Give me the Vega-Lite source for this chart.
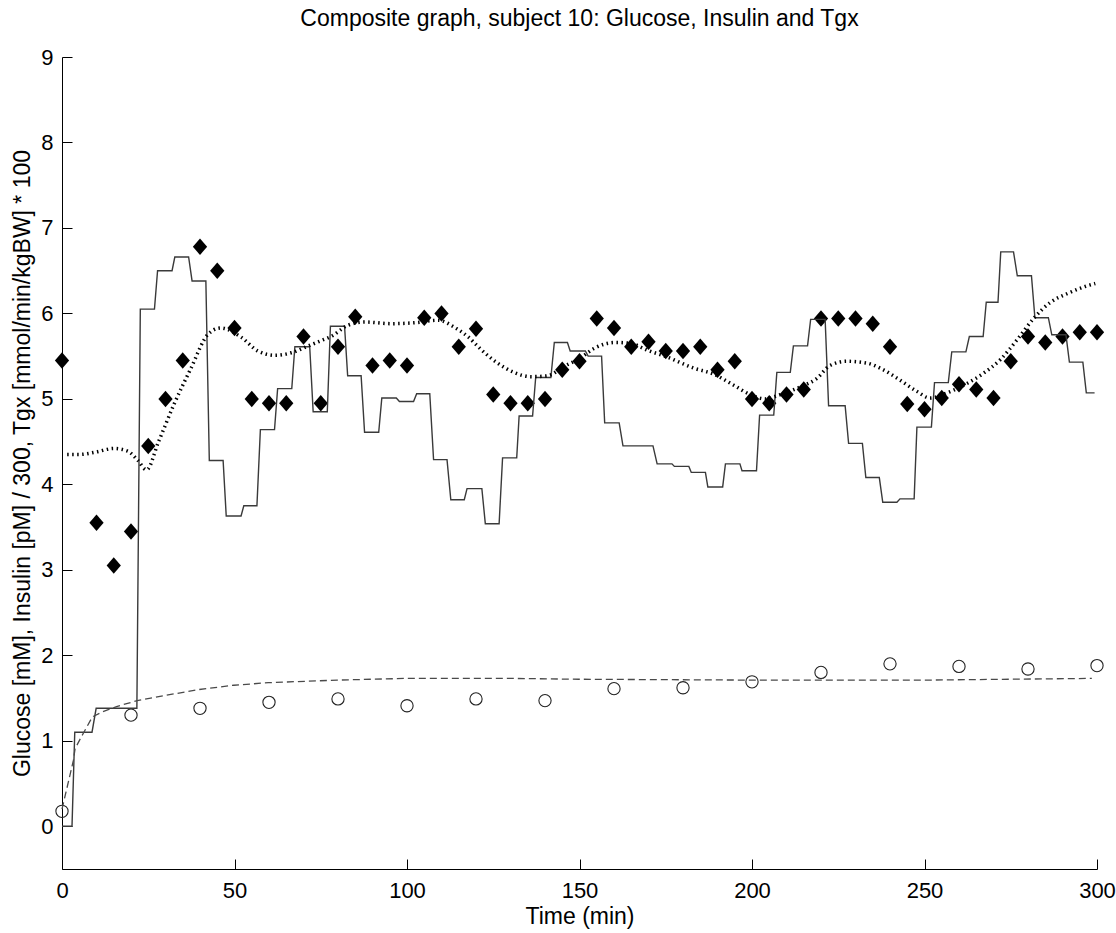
{
  "$schema": "https://vega.github.io/schema/vega-lite/v6.json",
  "width": 1035,
  "height": 812,
  "autosize": {"type": "none"},
  "padding": {"left": 62, "top": 57, "right": 19, "bottom": 64},
  "background": "white",
  "config": {
    "view": {"stroke": null},
    "axis": {
      "grid": false,
      "domainColor": "black",
      "domainWidth": 1,
      "tickColor": "black",
      "tickWidth": 1,
      "tickSize": -10,
      "labelColor": "black",
      "labelFont": "Liberation Sans",
      "labelFontSize": 22,
      "titleFont": "Liberation Sans",
      "titleFontSize": 23,
      "titleFontWeight": "normal",
      "titleColor": "black"
    }
  },
  "title": {
    "text": "Composite graph, subject 10: Glucose, Insulin and Tgx",
    "font": "Liberation Sans",
    "fontSize": 23,
    "fontWeight": "normal",
    "color": "black",
    "anchor": "middle",
    "offset": 15
  },
  "datasets": {
    "tgx": [
      {"t": 0, "v": 0}, {"t": 2.9, "v": 0}, {"t": 3.7, "v": 1.10}, {"t": 8.7, "v": 1.10},
      {"t": 9.9, "v": 1.38}, {"t": 21.7, "v": 1.38}, {"t": 22.7, "v": 6.05}, {"t": 26.8, "v": 6.05},
      {"t": 27.7, "v": 6.50}, {"t": 31.9, "v": 6.50}, {"t": 32.7, "v": 6.66}, {"t": 36.7, "v": 6.66},
      {"t": 37.7, "v": 6.38}, {"t": 41.7, "v": 6.38}, {"t": 42.7, "v": 4.28}, {"t": 46.7, "v": 4.28},
      {"t": 47.6, "v": 3.63}, {"t": 51.9, "v": 3.63}, {"t": 52.7, "v": 3.75}, {"t": 56.5, "v": 3.75},
      {"t": 57.5, "v": 4.64}, {"t": 61.6, "v": 4.64}, {"t": 62.5, "v": 5.12}, {"t": 66.6, "v": 5.12},
      {"t": 67.5, "v": 5.61}, {"t": 71.8, "v": 5.61}, {"t": 72.8, "v": 4.85}, {"t": 76.9, "v": 4.85},
      {"t": 77.8, "v": 5.85}, {"t": 81.9, "v": 5.85}, {"t": 82.8, "v": 5.27}, {"t": 86.7, "v": 5.27},
      {"t": 87.7, "v": 4.61}, {"t": 91.8, "v": 4.61}, {"t": 92.7, "v": 5.01}, {"t": 96.9, "v": 5.01},
      {"t": 97.8, "v": 4.97}, {"t": 101.9, "v": 4.97}, {"t": 102.8, "v": 5.06}, {"t": 106.6, "v": 5.06},
      {"t": 107.7, "v": 4.29}, {"t": 111.6, "v": 4.29}, {"t": 112.7, "v": 3.82}, {"t": 116.6, "v": 3.82},
      {"t": 117.4, "v": 3.95}, {"t": 121.7, "v": 3.95}, {"t": 122.7, "v": 3.54}, {"t": 126.7, "v": 3.54},
      {"t": 127.7, "v": 4.31}, {"t": 131.8, "v": 4.31}, {"t": 132.5, "v": 4.80}, {"t": 136.4, "v": 4.80},
      {"t": 137.3, "v": 5.25}, {"t": 141.7, "v": 5.25}, {"t": 142.7, "v": 5.66}, {"t": 146.5, "v": 5.66},
      {"t": 147.3, "v": 5.56}, {"t": 151.7, "v": 5.56}, {"t": 152.5, "v": 5.50}, {"t": 156.4, "v": 5.50},
      {"t": 157.3, "v": 4.72}, {"t": 161.5, "v": 4.72}, {"t": 162.6, "v": 4.45}, {"t": 171.3, "v": 4.45},
      {"t": 172.5, "v": 4.24}, {"t": 176.8, "v": 4.24}, {"t": 177.5, "v": 4.21}, {"t": 181.7, "v": 4.21},
      {"t": 182.4, "v": 4.14}, {"t": 186.5, "v": 4.14}, {"t": 187.2, "v": 3.97}, {"t": 191.5, "v": 3.97},
      {"t": 192.3, "v": 4.24}, {"t": 196.5, "v": 4.24}, {"t": 197.1, "v": 4.16}, {"t": 201.3, "v": 4.16},
      {"t": 202.2, "v": 4.81}, {"t": 206.3, "v": 4.81}, {"t": 207.2, "v": 5.31}, {"t": 211.1, "v": 5.31},
      {"t": 212, "v": 5.62}, {"t": 216.1, "v": 5.62}, {"t": 217, "v": 5.93}, {"t": 221.2, "v": 5.93},
      {"t": 222.2, "v": 4.92}, {"t": 227, "v": 4.92}, {"t": 228, "v": 4.48}, {"t": 232, "v": 4.48},
      {"t": 233, "v": 4.08}, {"t": 236.9, "v": 4.08}, {"t": 237.9, "v": 3.79}, {"t": 242, "v": 3.79},
      {"t": 242.9, "v": 3.83}, {"t": 247, "v": 3.83}, {"t": 247.8, "v": 4.67}, {"t": 252, "v": 4.67},
      {"t": 252.9, "v": 5.19}, {"t": 256.9, "v": 5.19}, {"t": 257.9, "v": 5.55}, {"t": 262, "v": 5.55},
      {"t": 263, "v": 5.73}, {"t": 267, "v": 5.73}, {"t": 267.9, "v": 6.13}, {"t": 271.3, "v": 6.13},
      {"t": 272.1, "v": 6.72}, {"t": 275.8, "v": 6.72}, {"t": 276.9, "v": 6.44}, {"t": 281, "v": 6.44},
      {"t": 282, "v": 5.95}, {"t": 285.9, "v": 5.95}, {"t": 286.9, "v": 5.75}, {"t": 291, "v": 5.75},
      {"t": 292, "v": 5.43}, {"t": 295.9, "v": 5.43}, {"t": 296.9, "v": 5.07}, {"t": 299.3, "v": 5.07}
    ],
    "glucose_model": [
      {"t": 1.5, "v": 4.35}, {"t": 5, "v": 4.35}, {"t": 10, "v": 4.38}, {"t": 15, "v": 4.42},
      {"t": 19, "v": 4.39}, {"t": 22, "v": 4.28}, {"t": 24.5, "v": 4.17}, {"t": 28, "v": 4.5},
      {"t": 32.5, "v": 4.94}, {"t": 37.4, "v": 5.36}, {"t": 42.2, "v": 5.75}, {"t": 46, "v": 5.83},
      {"t": 52, "v": 5.72}, {"t": 56.8, "v": 5.56}, {"t": 61.7, "v": 5.51}, {"t": 66.5, "v": 5.54},
      {"t": 71.4, "v": 5.62}, {"t": 75, "v": 5.68}, {"t": 78, "v": 5.73}, {"t": 82.8, "v": 5.86},
      {"t": 87.7, "v": 5.90}, {"t": 95.4, "v": 5.88}, {"t": 102, "v": 5.89}, {"t": 109, "v": 5.92},
      {"t": 113.7, "v": 5.84}, {"t": 117.6, "v": 5.73}, {"t": 121.4, "v": 5.58}, {"t": 126.2, "v": 5.42},
      {"t": 131, "v": 5.31}, {"t": 135.9, "v": 5.26}, {"t": 140.7, "v": 5.27}, {"t": 145.5, "v": 5.38},
      {"t": 150.3, "v": 5.48}, {"t": 154.2, "v": 5.59}, {"t": 160.4, "v": 5.66}, {"t": 164.8, "v": 5.65},
      {"t": 169.6, "v": 5.57}, {"t": 175.4, "v": 5.49}, {"t": 183.1, "v": 5.36}, {"t": 188.9, "v": 5.29},
      {"t": 194.7, "v": 5.16}, {"t": 199.5, "v": 5.05}, {"t": 203.8, "v": 5.0}, {"t": 208.2, "v": 5.05},
      {"t": 214, "v": 5.14}, {"t": 218.8, "v": 5.24}, {"t": 222.6, "v": 5.39}, {"t": 227.4, "v": 5.44},
      {"t": 233.2, "v": 5.42}, {"t": 238.1, "v": 5.34}, {"t": 242.9, "v": 5.22}, {"t": 247.7, "v": 5.09},
      {"t": 251.6, "v": 5.01}, {"t": 256.5, "v": 5.07}, {"t": 262.3, "v": 5.18}, {"t": 267.1, "v": 5.30},
      {"t": 272, "v": 5.46}, {"t": 276.8, "v": 5.69}, {"t": 281.6, "v": 5.94}, {"t": 286.5, "v": 6.13},
      {"t": 291.3, "v": 6.23}, {"t": 296.2, "v": 6.31}, {"t": 299.5, "v": 6.35}
    ],
    "insulin_model": [
      {"t": 0, "v": 0.2}, {"t": 3.3, "v": 0.77}, {"t": 3.8, "v": 0.91}, {"t": 5.8, "v": 1.06},
      {"t": 8.8, "v": 1.28}, {"t": 11.8, "v": 1.34}, {"t": 15.8, "v": 1.40}, {"t": 21.8, "v": 1.47},
      {"t": 29.8, "v": 1.53}, {"t": 39.8, "v": 1.60}, {"t": 49.8, "v": 1.65}, {"t": 59.8, "v": 1.68},
      {"t": 79.8, "v": 1.71}, {"t": 99.8, "v": 1.73}, {"t": 129.8, "v": 1.73}, {"t": 149.8, "v": 1.72},
      {"t": 200, "v": 1.71}, {"t": 250, "v": 1.71}, {"t": 298.5, "v": 1.73}
    ],
    "insulin_meas": [
      {"t": 0, "v": 0.175}, {"t": 20, "v": 1.30}, {"t": 40, "v": 1.38}, {"t": 60, "v": 1.45},
      {"t": 80, "v": 1.49}, {"t": 100, "v": 1.41}, {"t": 120, "v": 1.49}, {"t": 140, "v": 1.47},
      {"t": 160, "v": 1.61}, {"t": 180, "v": 1.62}, {"t": 200, "v": 1.69}, {"t": 220, "v": 1.80},
      {"t": 240, "v": 1.90}, {"t": 260, "v": 1.87}, {"t": 280, "v": 1.84}, {"t": 300, "v": 1.88}
    ],
    "glucose_meas": [
      {"t": 0, "v": 5.45}, {"t": 10, "v": 3.55}, {"t": 15, "v": 3.05}, {"t": 20, "v": 3.45},
      {"t": 25, "v": 4.45}, {"t": 30, "v": 5.0}, {"t": 35, "v": 5.45}, {"t": 40, "v": 6.78},
      {"t": 45, "v": 6.5}, {"t": 50, "v": 5.83}, {"t": 55, "v": 5.0}, {"t": 60, "v": 4.95},
      {"t": 65, "v": 4.95}, {"t": 70, "v": 5.73}, {"t": 75, "v": 4.95}, {"t": 80, "v": 5.61},
      {"t": 85, "v": 5.96}, {"t": 90, "v": 5.39}, {"t": 95, "v": 5.45}, {"t": 100, "v": 5.39},
      {"t": 105, "v": 5.95}, {"t": 110, "v": 6.0}, {"t": 115, "v": 5.61}, {"t": 120, "v": 5.82},
      {"t": 125, "v": 5.05}, {"t": 130, "v": 4.95}, {"t": 135, "v": 4.95}, {"t": 140, "v": 5.0},
      {"t": 145, "v": 5.34}, {"t": 150, "v": 5.44}, {"t": 155, "v": 5.94}, {"t": 160, "v": 5.83},
      {"t": 165, "v": 5.61}, {"t": 170, "v": 5.67}, {"t": 175, "v": 5.56}, {"t": 180, "v": 5.56},
      {"t": 185, "v": 5.61}, {"t": 190, "v": 5.34}, {"t": 195, "v": 5.44}, {"t": 200, "v": 5.0},
      {"t": 205, "v": 4.95}, {"t": 210, "v": 5.05}, {"t": 215, "v": 5.11}, {"t": 220, "v": 5.94},
      {"t": 225, "v": 5.94}, {"t": 230, "v": 5.94}, {"t": 235, "v": 5.88}, {"t": 240, "v": 5.61},
      {"t": 245, "v": 4.94}, {"t": 250, "v": 4.88}, {"t": 255, "v": 5.01}, {"t": 260, "v": 5.17},
      {"t": 265, "v": 5.11}, {"t": 270, "v": 5.01}, {"t": 275, "v": 5.44}, {"t": 280, "v": 5.73},
      {"t": 285, "v": 5.66}, {"t": 290, "v": 5.73}, {"t": 295, "v": 5.78}, {"t": 300, "v": 5.78}
    ]
  },
  "encoding": {
    "x": {
      "field": "t", "type": "quantitative",
      "scale": {"domain": [0, 300], "nice": false, "zero": false},
      "axis": {"title": "Time (min)", "values": [0, 50, 100, 150, 200, 250, 300], "labelPadding": 21, "titlePadding": 4, "labelFlush": false}
    },
    "y": {
      "field": "v", "type": "quantitative",
      "scale": {"domain": [-0.5, 9], "nice": false, "zero": false},
      "axis": {"title": "Glucose [mM], Insulin [pM] / 300, Tgx [mmol/min/kgBW] * 100", "values": [0, 1, 2, 3, 4, 5, 6, 7, 8, 9], "labelPadding": 19, "titlePadding": 6, "labelFlush": false}
    }
  },
  "layer": [
    {
      "data": {"name": "glucose_meas"},
      "mark": {"type": "point", "shape": "M0,-1.1L0.95,0L0,1.1L-0.95,0Z", "filled": true, "color": "black", "size": 225, "opacity": 1}
    },
    {
      "data": {"name": "insulin_meas"},
      "mark": {"type": "point", "shape": "circle", "filled": false, "stroke": "#222222", "strokeWidth": 1.1, "size": 150, "opacity": 1}
    },
    {
      "data": {"name": "tgx"},
      "mark": {"type": "line", "color": "#3a3a3a", "strokeWidth": 1.4}
    },
    {
      "data": {"name": "insulin_model"},
      "mark": {"type": "line", "color": "#4a4a4a", "strokeWidth": 1.3, "strokeDash": [7, 4]}
    },
    {
      "data": {"name": "glucose_model"},
      "mark": {"type": "line", "color": "black", "strokeWidth": 3.5, "strokeDash": [1.5, 3.5], "strokeCap": "butt", "interpolate": "monotone"}
    }
  ]
}
